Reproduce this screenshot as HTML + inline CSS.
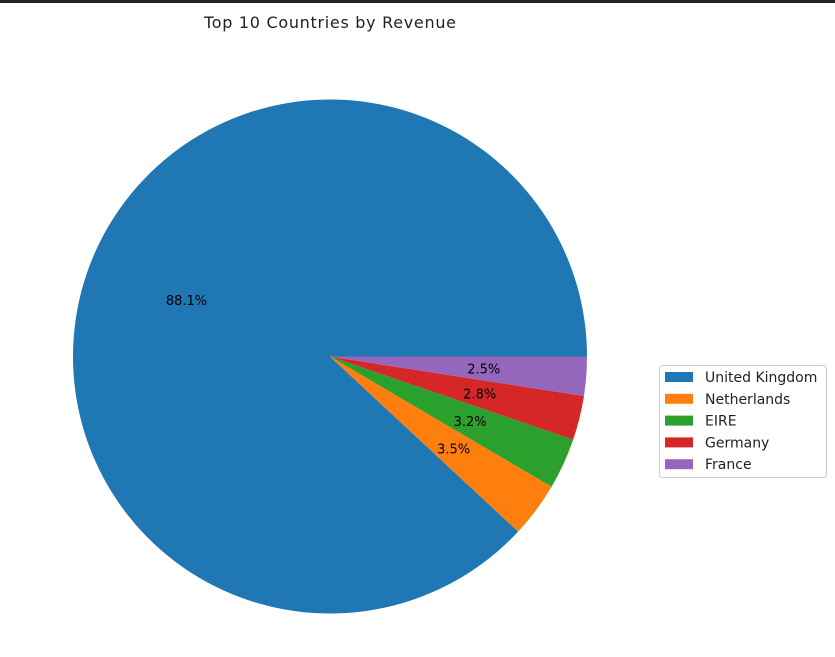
<!DOCTYPE html>
<html><head><meta charset="utf-8"><style>
body{margin:0;background:#fff;width:835px;height:653px;overflow:hidden;font-family:"DejaVu Sans","Liberation Sans",sans-serif}
</style></head><body>
<svg width="835" height="653" xmlns="http://www.w3.org/2000/svg">
<rect x="0" y="0" width="835" height="3" fill="#222"/>
<text x="330" y="28" text-anchor="middle" font-size="16" fill="#222" textLength="252">Top 10 Countries by Revenue</text>
<g id="pie"></g>
<g>
<rect x="659.5" y="365.5" width="167" height="112" rx="3" fill="#fff" stroke="#ccc"/>
<g id="legend-items"></g>
</g>
</svg>
<script>
const categories=["United Kingdom","Netherlands","EIRE","Germany","France"];
const values=[88.08,3.47,3.21,2.79,2.46];
const colors=["#1f77b4","#ff7f0e","#2ca02c","#d62728","#9467bd"];
const cx=330,cy=356.5,r=257;
const ns="http://www.w3.org/2000/svg";
const pie=document.getElementById('pie');
const total=values.reduce((a,b)=>a+b,0);
let a0=0;
values.forEach((v,i)=>{
  const a1=a0+v/total*2*Math.PI;
  const p=document.createElementNS(ns,'path');
  const x0=cx+r*Math.cos(a0),y0=cy-r*Math.sin(a0),x1=cx+r*Math.cos(a1),y1=cy-r*Math.sin(a1);
  const large=(a1-a0)>Math.PI?1:0;
  p.setAttribute('d',`M${cx},${cy}L${x0},${y0}A${r},${r} 0 ${large} 0 ${x1},${y1}Z`);
  p.setAttribute('fill',colors[i]);
  
  
  pie.appendChild(p);
  const m=(a0+a1)/2;
  const t=document.createElementNS(ns,'text');
  t.setAttribute('x',cx+0.6*r*Math.cos(m));
  t.setAttribute('y',cy-0.6*r*Math.sin(m)+5);
  t.setAttribute('text-anchor','middle');
  t.setAttribute('font-size','13');
  t.setAttribute('fill','#000');
  t.textContent=(v/total*100).toFixed(1)+'%';
  
  
  pie.appendChild(t);
  a0=a1;
});
const lg=document.getElementById('legend-items');
categories.forEach((c,i)=>{
  const y=377+i*21.8;
  const rc=document.createElementNS(ns,'rect');
  rc.setAttribute('x',665);rc.setAttribute('y',y-5);rc.setAttribute('width',28);rc.setAttribute('height',10);
  rc.setAttribute('fill',colors[i]);
  
  
  lg.appendChild(rc);
  const t=document.createElementNS(ns,'text');
  t.setAttribute('x',705);t.setAttribute('y',y+5);t.setAttribute('font-size','14');t.setAttribute('fill','#222');
  t.textContent=c;
  
  
  lg.appendChild(t);
});
</script>
</body></html>
